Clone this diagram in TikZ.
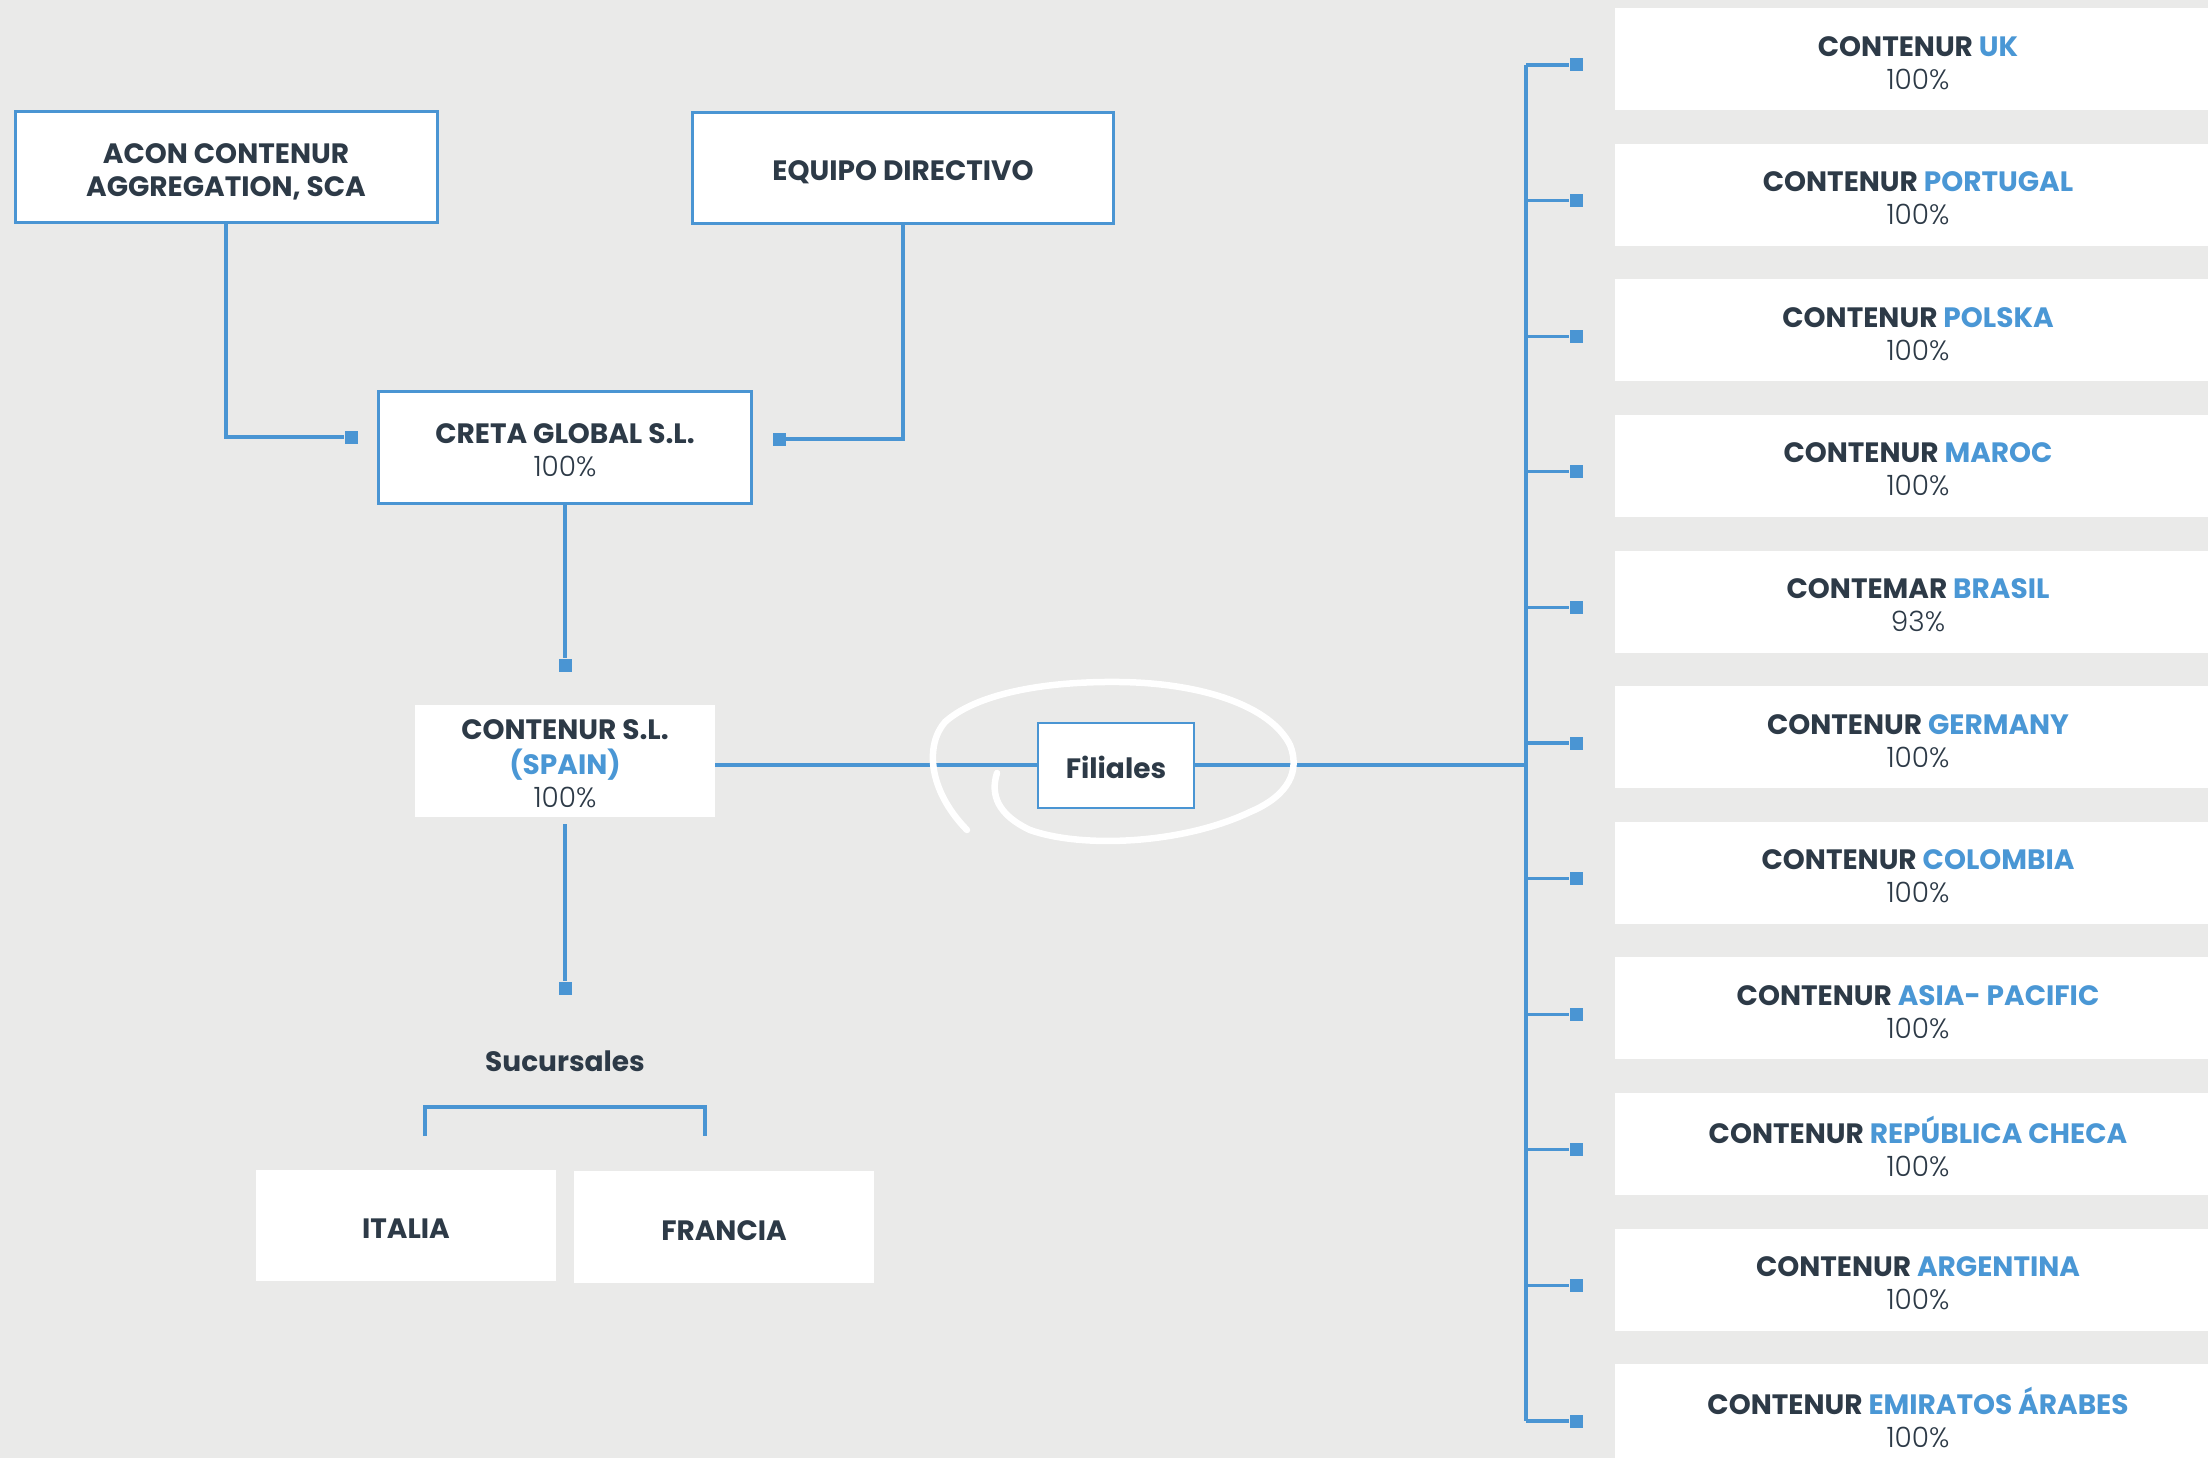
\documentclass[tikz,border=0pt]{standalone}
\usepackage{fontspec}
\setmainfont{Poppins}
\newfontfamily\lightfont{Poppins Light}
\definecolor{bg}{HTML}{EAEAE9}
\definecolor{lblue}{HTML}{4A95D3}
\definecolor{tblue}{HTML}{4A97D5}
\definecolor{dark}{HTML}{2D3A47}
\newcommand{\mystrut}{\rule[-3pt]{0pt}{32pt}}
\newcommand{\ml}[1]{\raisebox{-6pt}[\height][\depth]{\begin{tabular}{@{}c@{}}#1\end{tabular}}}
\begin{document}
\begin{tikzpicture}[x=1pt,y=-1pt,
  every node/.style={font=\fontsize{28}{33}\selectfont\bfseries, text=dark, align=center, inner sep=0pt},
  txt/.style={execute at begin node=\mystrut, execute at end node=\mystrut},
  bbox/.style={draw=lblue, line width=3pt, fill=white},
  wbox/.style={fill=white},
  conn/.style={draw=lblue, line width=3.2pt},
  mk/.style={fill=lblue, minimum size=13pt, inner sep=0pt},
  rbox/.style={fill=white, anchor=north west, minimum width=607pt, minimum height=102pt}]
\clip (0,0) rectangle (2208,1458);
\fill[bg] (0,0) rectangle (2208,1458);

% left boxes
\node[bbox, minimum width=422pt, minimum height=111pt] (acon) at (226,167) {\ml{ACON CONTENUR\\AGGREGATION, SCA}};
\node[bbox, txt, minimum width=421pt, minimum height=111pt] (equipo) at (903,168) {EQUIPO DIRECTIVO};
\node[bbox, minimum width=373pt, minimum height=112pt] (creta) at (565,447) {\ml{CRETA GLOBAL S.L.\\{\lightfont\mdseries 100\%}}};
\node[wbox, minimum width=300pt, minimum height=112pt] (csl) at (565,761) {\ml{CONTENUR S.L.\\\textcolor{tblue}{(SPAIN)}\\{\lightfont\mdseries 100\%}}};
\node[txt, draw=lblue, line width=2pt, fill=white, minimum width=156pt, minimum height=85pt] (fil) at (1116,765) {Filiales};
\node[txt] (suc) at (565,1058) {Sucursales};
\node[wbox, txt, minimum width=300pt, minimum height=111pt] (ita) at (406,1225) {ITALIA};
\node[wbox, txt, minimum width=300pt, minimum height=112pt] (fra) at (724,1227) {FRANCIA};

% markers
\node[mk] (m1) at (351,437) {};
\node[mk] (m2) at (779,439) {};
\node[mk] (m3) at (565,665) {};
\node[mk] (m4) at (565,988) {};

% connectors left
\draw[conn] (acon.south) |- (m1);
\draw[conn] (equipo.south) |- (m2);
\draw[conn] (creta.south) -- (m3);
\draw[conn] ([yshift=-7pt]csl.south) -- (m4);
\coordinate (bl) at (425,1136);
\coordinate (br) at (705,1136);
\draw[conn] (bl) -- (425,1107) -- (705,1107) -- (br);

% right column
\coordinate (vtop) at (1526,65);
\coordinate (vbot) at (1526,1421);
\coordinate (vmid) at (1526,765);
\draw[conn] (vtop) -- (vbot);
\draw[conn] (csl.east |- fil.west) -- (fil.west);
\draw[conn] (fil.east) -- (vmid);

\foreach \i/\a/\b/\p in {
  0/CONTENUR/UK/100,
  1/CONTENUR/PORTUGAL/100,
  2/CONTENUR/POLSKA/100,
  3/CONTENUR/MAROC/100,
  4/CONTEMAR/BRASIL/93,
  5/CONTENUR/GERMANY/100,
  6/CONTENUR/COLOMBIA/100,
  7/CONTENUR/ASIA- PACIFIC/100,
  8/CONTENUR/REPÚBLICA CHECA/100,
  9/CONTENUR/ARGENTINA/100,
  10/CONTENUR/EMIRATOS ÁRABES/100} {
  \pgfmathsetmacro{\yt}{8+135.6*\i}
  \pgfmathsetmacro{\ym}{65+135.6*\i}
  \node[rbox] (r\i) at (1615,\yt) {};
  \node (t\i) at (1918,\yt+52) {\ml{\a\ \textcolor{tblue}{\b}\\{\lightfont\mdseries \p\%}}};
  \node[mk] (q\i) at (1576,\ym) {};
  \draw[conn] (1526,\ym) -- (q\i);
}

% white scribble
\draw[white, line width=6.5pt, line cap=round, line join=round]
  (997,773) .. controls (990,795) and (998,815) .. (1030,830)
  .. controls (1080,848) and (1180,845) .. (1250,812)
  .. controls (1290,795) and (1300,770) .. (1290,745)
  .. controls (1270,705) and (1200,683) .. (1120,682)
  .. controls (1040,681) and (975,695) .. (945,722)
  .. controls (925,745) and (928,790) .. (967,830);
\end{tikzpicture}
\end{document}
